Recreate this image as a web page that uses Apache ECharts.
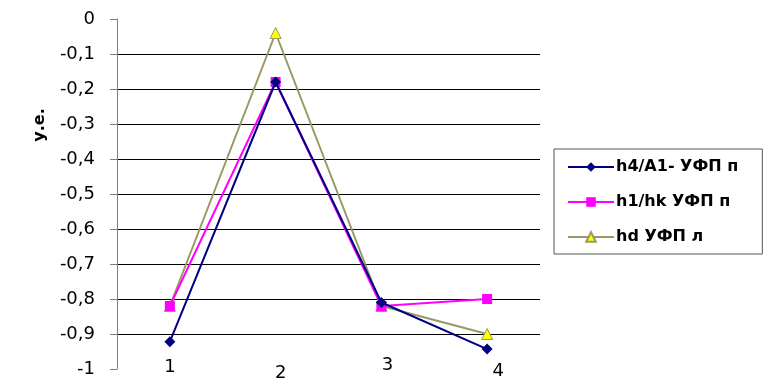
<!DOCTYPE html>
<html><head><meta charset="utf-8">
<script src="https://cdn.jsdelivr.net/npm/echarts@6/dist/echarts.min.js"></script>
<style>html,body{margin:0;padding:0;background:#fff}#c{width:765px;height:388px}</style>
</head><body><div id="c"></div>
<script>
const categories = ['1', '2', '3', '4'];
const seriesNames = ['h4/A1- УФП п', 'h1/hk УФП п', 'hd УФП л'];
const s1 = [-0.922, -0.18, -0.81, -0.943];
const s2 = [-0.82, -0.18, -0.82, -0.80];
const s3 = [-0.82, -0.04, -0.82, -0.90];
const yTicks = [0, -0.1, -0.2, -0.3, -0.4, -0.5, -0.6, -0.7, -0.8, -0.9, -1];
const yName = 'у.е.';

const F = '"DejaVu Sans", "Liberation Sans", Arial, sans-serif';
const chart = echarts.init(document.getElementById('c'), null, {renderer: 'canvas'});
const labelStyles = ['a', 'b', 'c', 'd'];
chart.setOption({
  animation: false,
  backgroundColor: '#fff',
  grid: {left: 117, right: 225, top: 19, bottom: 19, containLabel: false},
  xAxis: {
    type: 'category', data: categories, boundaryGap: true,
    axisLine: {show: false}, axisTick: {show: false},
    axisLabel: {
      margin: -11, fontFamily: F, fontSize: 18, color: '#000',
      formatter: (v, i) => '{' + labelStyles[i] + '|' + v + '}',
      rich: {
        a: {fontFamily: F, fontSize: 18, color: '#000', padding: [0, 0, 0, 0]},
        b: {fontFamily: F, fontSize: 18, color: '#000', padding: [6, 0, 0, 10]},
        c: {fontFamily: F, fontSize: 18, color: '#000', padding: [-2, 0, 0, 12]},
        d: {fontFamily: F, fontSize: 18, color: '#000', padding: [4, 0, 0, 22]}
      }
    }
  },
  yAxis: {
    type: 'value', min: -1, max: 0, interval: 0.1,
    axisLine: {show: true, lineStyle: {color: '#808080', width: 1}},
    axisTick: {show: true, length: 7, lineStyle: {color: '#808080'}},
    axisLabel: {
      margin: 22, fontFamily: F, fontSize: 18, color: '#000',
      formatter: v => {
        const r = Math.round(v * 10) / 10;
        return String(r).replace('.', ',');
      }
    },
    splitLine: {show: true, showMinLine: false, showMaxLine: false, lineStyle: {color: '#000', width: 1}}
  },
  legend: {
    show: true, orient: 'vertical', left: 554, top: 149,
    width: 200,
    padding: [10, 24, 9, 13],
    borderColor: '#555', borderWidth: 1,
    itemWidth: 46, itemHeight: 12, itemGap: 19,
    textStyle: {fontFamily: F, fontSize: 16, fontWeight: 'bold', color: '#000', padding: [0, 0, 0, -3]},
    data: seriesNames
  },
  graphic: [{
    type: 'text', x: 40, y: 125, rotation: Math.PI / 2,
    style: {text: yName, fontFamily: F, fontSize: 16, fontWeight: 'bold', fill: '#000', align: 'center', verticalAlign: 'middle'}
  }],
  series: [
    {name: seriesNames[0], type: 'line', data: s1, symbol: 'diamond', symbolSize: 11,
     lineStyle: {color: '#000080', width: 2}, itemStyle: {color: '#000080'}, z: 4},
    {name: seriesNames[1], type: 'line', data: s2, symbol: 'rect', symbolSize: 10,
     lineStyle: {color: '#ff00ff', width: 2}, itemStyle: {color: '#ff00ff'}, z: 3},
    {name: seriesNames[2], type: 'line', data: s3, symbol: 'triangle', symbolSize: 11,
     lineStyle: {color: '#999966', width: 2}, itemStyle: {color: '#ffff00', borderColor: '#999966', borderWidth: 1}, z: 2}
  ]
});
</script></body></html>
